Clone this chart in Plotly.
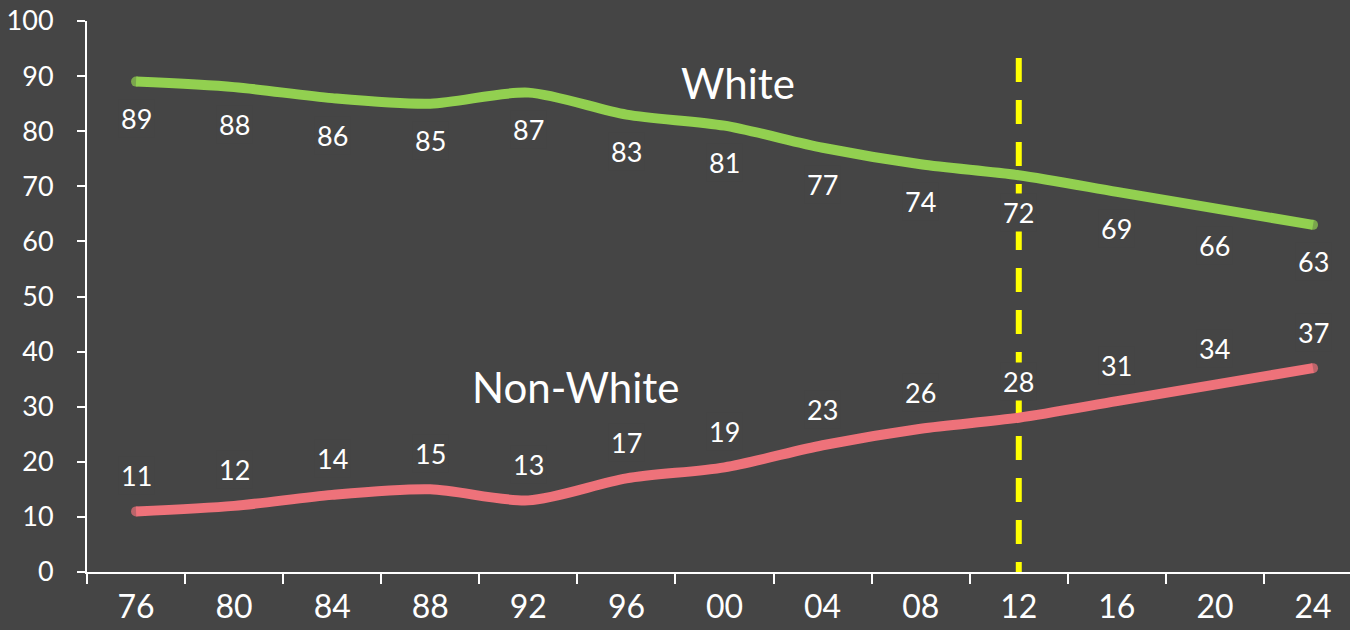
import plotly.graph_objects as go

# Election years (two-digit labels) and share of the electorate, in percent
years = ["76", "80", "84", "88", "92", "96", "00", "04", "08", "12", "16", "20", "24"]
white = [89, 88, 86, 85, 87, 83, 81, 77, 74, 72, 69, 66, 63]
non_white = [11, 12, 14, 15, 13, 17, 19, 23, 26, 28, 31, 34, 37]
y_ticks = [0, 10, 20, 30, 40, 50, 60, 70, 80, 90, 100]
marker_year = "12"

BG = "#454545"
GREEN = "#92D050"
PINK = "#EE727A"
FONT = "Lato"
LW = 10

def cap_sizes(n):
    # round ends only at the first and last point
    return [LW] + [0] * (n - 2) + [LW]

fig = go.Figure()
for vals, color in ((white, GREEN), (non_white, PINK)):
    fig.add_trace(go.Scatter(
        x=years, y=vals, mode="lines+markers",
        line=dict(color=color, width=LW, shape="spline", smoothing=0.8),
        marker=dict(color=color, size=cap_sizes(len(vals)), line=dict(width=0)),
        hoverinfo="skip", showlegend=False,
    ))

# value labels: positioned by category index so two-digit strings are not read as numbers
annotations = []
for i, (w, n) in enumerate(zip(white, non_white)):
    annotations.append(dict(x=i, y=w, xref="x", yref="y", text=str(w), showarrow=False,
                            yshift=-37, bgcolor=BG, borderpad=2,
                            font=dict(color="white", size=27, family=FONT)))
    annotations.append(dict(x=i, y=n, xref="x", yref="y", text=str(n), showarrow=False,
                            yshift=36, bgcolor=BG, borderpad=2,
                            font=dict(color="white", size=27, family=FONT)))

annotations.append(dict(x=6.14, y=88.7, xref="x", yref="y", text="White", showarrow=False,
                        font=dict(color="white", size=42, family=FONT)))
annotations.append(dict(x=4.49, y=33.6, xref="x", yref="y", text="Non-White", showarrow=False,
                        font=dict(color="white", size=42, family=FONT)))

# dashed marker for the reference year, drawn beneath the series lines
idx = years.index(marker_year)
fig.add_shape(type="line", xref="x", yref="y", x0=idx, x1=idx, y0=93.3, y1=0,
              line=dict(color="#FFFF00", width=6, dash="24px,18px"), layer="below")

fig.update_layout(
    width=1350, height=630,
    margin=dict(l=87, r=0, t=21, b=58),
    paper_bgcolor=BG, plot_bgcolor=BG,
    annotations=annotations,
    font=dict(family=FONT, color="white"),
    xaxis=dict(type="category", range=[-0.5, 12.377], tickson="boundaries",
               showgrid=False, zeroline=False, showline=True, linecolor="white", linewidth=2,
               ticks="outside", ticklen=10, tickwidth=2, tickcolor="white",
               tickfont=dict(size=32, color="white", family=FONT), ticklabelstandoff=6),
    yaxis=dict(range=[0, 100], tickvals=y_ticks, showgrid=False, zeroline=False,
               showline=True, linecolor="white", linewidth=2,
               ticks="outside", ticklen=8, tickwidth=2, tickcolor="white",
               tickfont=dict(size=27, color="white", family=FONT), ticklabelstandoff=18),
)

fig.write_html("out.html")
